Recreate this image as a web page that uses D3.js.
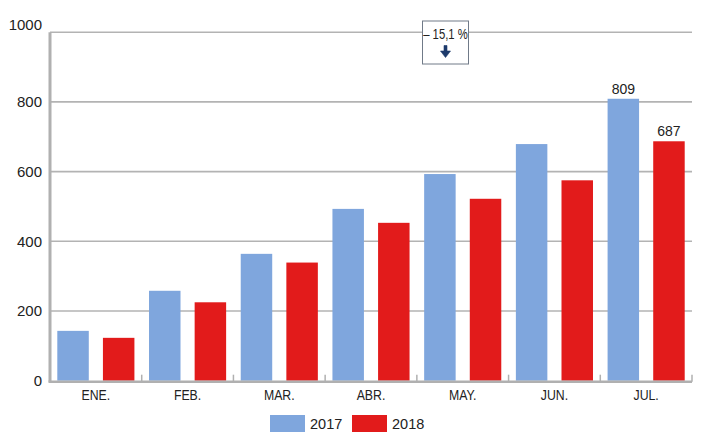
<!DOCTYPE html>
<html><head><meta charset="utf-8">
<script src="https://cdn.jsdelivr.net/npm/d3@7"></script>
<style>body{margin:0;background:#fff}svg{display:block}</style>
</head><body>
<svg id="c" width="709" height="445"></svg>
<script>
const categories = ["ENE.","FEB.","MAR.","ABR.","MAY.","JUN.","JUL."];
const series = ["2017","2018"];
const values2017 = [143, 258, 364, 493, 593, 679, 809];
const values2018 = [123, 225, 339, 453, 522, 575, 687];
const yTicks = [0, 200, 400, 600, 800, 1000];
const annotation = "– 15,1 %";
const colors = {"2017": "#7fa6dd", "2018": "#e21b1b"};

const svg = d3.select("#c");
const L = 50, R = 692, T = 32.2, B = 380.7;
const x0 = d3.scaleBand().domain(categories).range([L, R]).padding(0);
const x1 = d3.scaleBand().domain(series).range([0, x0.bandwidth()]).paddingInner(0.31).paddingOuter(0.16);
const y = d3.scaleLinear().domain([0, 1000]).range([B, T]);

// gridlines
svg.append("g").selectAll("line").data(yTicks.filter(d => d > 0)).join("line")
  .attr("x1", L).attr("x2", R).attr("y1", d => y(d)).attr("y2", d => y(d))
  .attr("stroke", "#b3b3b3").attr("stroke-width", 1.6);

// y labels
svg.append("g").selectAll("text").data(yTicks).join("text")
  .attr("x", 42).attr("y", d => y(d) + (d === 1000 ? -7 : 0))
  .attr("dy", "0.35em").attr("text-anchor", "end")
  .attr("font-family", "Liberation Sans, Arial, sans-serif").attr("font-size", 15).attr("fill", "#222")
  .text(d => d);

// bars
const rows = categories.map((c, i) => ({c, vals: [{s: "2017", v: values2017[i]}, {s: "2018", v: values2018[i]}]}));
const g = svg.append("g").selectAll("g").data(rows).join("g").attr("transform", d => `translate(${x0(d.c)},0)`);
g.selectAll("rect").data(d => d.vals).join("rect")
  .attr("x", d => x1(d.s)).attr("width", x1.bandwidth())
  .attr("y", d => y(d.v)).attr("height", d => y(0) - y(d.v))
  .attr("fill", d => colors[d.s]);

// value labels on last category
const last = rows[rows.length - 1];
svg.append("g").selectAll("text").data(last.vals).join("text")
  .attr("x", d => x0(last.c) + x1(d.s) + x1.bandwidth() / 2)
  .attr("y", d => y(d.v) - 5)
  .attr("text-anchor", "middle")
  .attr("font-family", "Liberation Sans, Arial, sans-serif").attr("font-size", 14).attr("fill", "#222")
  .text(d => d.v);

// axes lines
svg.append("line").attr("x1", L).attr("x2", L).attr("y1", T).attr("y2", B + 1)
  .attr("stroke", "#b0b0b0").attr("stroke-width", 3);
svg.append("line").attr("x1", L - 1.5).attr("x2", R).attr("y1", B + 1).attr("y2", B + 1)
  .attr("stroke", "#b0b0b0").attr("stroke-width", 2.5);
// x ticks at category boundaries
svg.append("g").selectAll("line").data(categories.slice(1).concat(["__end"])).join("line")
  .attr("x1", d => d === "__end" ? R : x0(d)).attr("x2", d => d === "__end" ? R : x0(d))
  .attr("y1", B - 6).attr("y2", B + 1)
  .attr("stroke", "#b0b0b0").attr("stroke-width", 1.5);

// category labels (condensed look)
svg.append("g").selectAll("text").data(categories).join("text")
  .attr("transform", d => `translate(${x0(d) + x0.bandwidth() / 2},395) scale(0.82,1)`)
  .attr("dy", "0.35em")
  .attr("text-anchor", "middle")
  .attr("font-family", "Liberation Sans, Arial, sans-serif").attr("font-size", 15)
  .attr("fill", "#222").text(d => d);

// annotation box
const ann = svg.append("g");
ann.append("rect").attr("x", 422.5).attr("y", 21).attr("width", 46).attr("height", 43)
  .attr("fill", "#fff").attr("stroke", "#707a88").attr("stroke-width", 1);
ann.append("text").attr("transform", "translate(445.5,34) scale(0.78,1)").attr("dy", "0.35em").attr("text-anchor", "middle")
  .attr("font-family", "Liberation Sans, Arial, sans-serif").attr("font-size", 14.5)
  .attr("fill", "#222").text(annotation);
ann.append("path")
  .attr("d", "M444,45.5 L447,45.5 L447,51 L450.5,51 L445.5,57.5 L440.5,51 L444,51 Z")
  .attr("fill", "#1d3a6b").attr("stroke", "#1d3a6b").attr("stroke-width", 0.6)
  .attr("stroke-linejoin", "round");

// legend
const lg = svg.append("g").selectAll("g").data(series).join("g")
  .attr("transform", (d, i) => `translate(${270 + i * 82},415)`);
lg.append("rect").attr("width", 35).attr("height", 17).attr("fill", d => colors[d]);
lg.append("text").attr("x", 40).attr("y", 8.5).attr("dy", "0.35em")
  .attr("font-family", "Liberation Sans, Arial, sans-serif").attr("font-size", 14.5).attr("fill", "#222")
  .text(d => d);
</script>
</body></html>
